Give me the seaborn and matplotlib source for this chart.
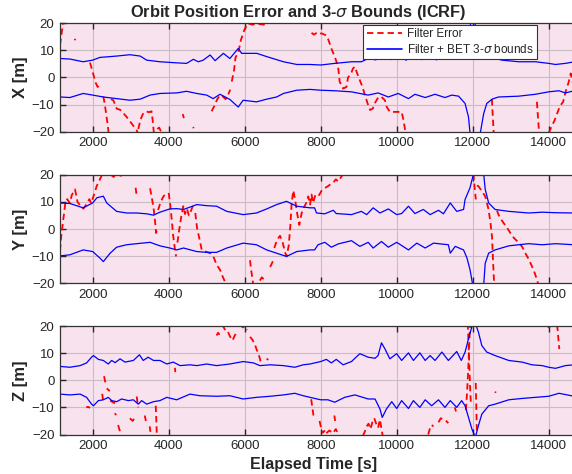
import numpy as np
import pandas as pd
import seaborn as sns
import matplotlib.pyplot as plt
from matplotlib.lines import Line2D

# ---- data (time [s], value [m]) ----
X_UP = [(1140, 7.0), (1400, 6.8), (1750, 5.8), (2000, 6.4), (2190, 7.4), (2630, 7.9), (2980, 8.4),
        (3250, 7.9), (3420, 6.4), (3770, 5.8), (4210, 5.4), (4470, 5.2), (4650, 6.7), (4780, 5.8),
        (4910, 6.4), (5090, 8.3), (5220, 6.2), (5440, 8.9), (5610, 7.0), (5830, 10.7), (5920, 8.9),
        (6140, 8.9), (6320, 8.9), (6580, 7.7), (7020, 5.8), (7370, 4.8), (7720, 4.8), (8000, 4.6),
        (8370, 5.2), (8810, 5.8), (9070, 5.8), (9250, 7.0), (9450, 6.5), (9650, 8.0), (9850, 6.6),
        (10050, 7.8), (10250, 6.4), (10450, 8.2), (10650, 6.6), (10850, 7.9), (11050, 6.5),
        (11250, 8.1), (11450, 6.8), (11650, 7.5), (11800, 8.0), (11900, 12.0), (11950, 21.0),
        (12050, 21.0), (12150, 12.0), (12300, 8.0), (12770, 6.4), (13210, 5.8), (13650, 5.8),
        (14000, 5.2), (14180, 4.8), (14440, 5.2), (14680, 5.8)]
X_LO = [(1140, -7.2), (1400, -7.4), (1750, -5.9), (2000, -6.5), (2280, -7.2), (2630, -7.8),
        (2980, -8.4), (3250, -8.0), (3510, -6.5), (3770, -5.9), (4210, -5.7), (4470, -5.1),
        (4740, -5.9), (5000, -6.5), (5170, -7.8), (5350, -6.2), (5610, -8.1), (5830, -10.9),
        (5960, -8.4), (6310, -9.0), (6580, -8.0), (6840, -7.2), (7020, -5.9), (7370, -4.7),
        (7720, -4.4), (8000, -4.7), (8370, -4.9), (8810, -5.3), (9250, -6.5), (9510, -5.7),
        (9780, -7.2), (10040, -5.9), (10310, -7.8), (10480, -6.2), (10750, -7.4), (11010, -6.2),
        (11270, -7.4), (11450, -6.5), (11630, -6.9), (11800, -9.6), (11890, -14.6), (11930, -20.5),
        (12070, -24.0), (12200, -20.5), (12290, -13.3), (12370, -9.6), (12510, -8.0), (12680, -7.2),
        (13210, -6.9), (13650, -6.2), (14000, -5.3), (14270, -4.9), (14440, -5.7), (14670, -4.9)]
X_ERR = [
    [(1140, 12), (1180, 16), (1230, 21)],
    [(1520, 14.2), (1550, 13.8)],
    [(1930, 5.5), (1980, 3), (2030, 0.5), (2080, -2), (2130, -3.5), (2170, -3)],
    [(2280, -7), (2320, -10), (2360, -14), (2400, -18), (2430, -22)],
    [(2480, -8), (2544, -8.4), (2631, -11.5), (2719, -11.9), (2800, -13), (2895, -14.6),
     (3026, -17), (3158, -19.5), (3200, -21)],
    [(3200, -19), (3260, -15.5), (3320, -13.5), (3400, -12.5), (3480, -12.8), (3550, -12.5),
     (3580, -16), (3620, -22)],
    [(3700, -19), (3750, -18.5), (3800, -20), (3850, -19)],
    [(4370, -13.5), (4400, -15)],
    [(4640, -18.3), (4660, -18.7)],
    [(5130, -12.5), (5200, -10.5), (5280, -8), (5350, -6.5), (5420, -7), (5500, -8),
     (5560, -6.5), (5620, -4.5)],
    [(5660, -1.5), (5720, 2.7), (5760, 7.5), (5830, 9), (5900, 13.8), (5990, 17.5),
     (6080, 20), (6200, 19.5), (6350, 19.8), (6500, 19.5), (6650, 20.5)],
    [(7760, 16.5), (7820, 15.8), (7900, 16.5), (7960, 16), (8020, 16.3), (8150, 15.5),
     (8200, 14), (8250, 12), (8300, 10), (8370, 7.7), (8458, 4.0), (8500, -1.6), (8590, -4.1),
     (8678, -3.5), (8720, 0), (8800, 1.5), (8850, 3.3), (8900, 4), (8960, 1.5), (9030, -1),
     (9100, -3.5), (9180, -7.2), (9250, -10.2), (9300, -12), (9370, -11.5), (9420, -9.6),
     (9520, -7.2), (9600, -7.2), (9690, -8.4), (9740, -10.9), (9820, -12.7), (9950, -12.7),
     (10130, -12.7), (10180, -15.8), (10240, -21)],
    [(12505, -8), (12520, -12), (12540, -17), (12560, -22)],
    [(13690, -9), (13710, -13), (13730, -17), (13750, -21)],
    [(14000, -20.5), (14080, -18), (14150, -16), (14230, -13), (14300, -10.5), (14380, -9),
     (14450, -5), (14520, -2), (14580, 1.5), (14650, -3)],
]

Y_UP = [(1140, 9.6), (1400, 9.4), (1750, 7.8), (2000, 9.6), (2110, 11.5), (2280, 12.1), (2370, 9.6),
        (2630, 6.5), (2890, 5.9), (3160, 5.9), (3420, 5.6), (3600, 5.1), (3770, 6.2), (4030, 7.4),
        (4210, 7.5), (4390, 7.2), (4740, 9.0), (5000, 8.6), (5260, 8.4), (5530, 6.5), (5960, 5.3),
        (6310, 5.9), (6580, 7.4), (6840, 9.0), (7100, 10.2), (7370, 8.4), (7720, 7.8), (7840, 7.8),
        (7890, 5.9), (8110, 5.6), (8330, 6.9), (8410, 5.7), (8810, 5.3), (9070, 6.5), (9210, 5.3),
        (9380, 7.8), (9560, 5.9), (9780, 7.4), (10000, 5.3), (10130, 5.7), (10310, 8.4),
        (10480, 5.7), (10700, 7.2), (10880, 5.3), (11100, 6.9), (11230, 5.6), (11410, 9.6),
        (11580, 6.5), (11760, 7.2), (11800, 10.9), (11930, 15.2), (12020, 20.2), (12150, 24.0),
        (12290, 20.2), (12330, 14.6), (12420, 9.6), (12590, 7.2), (12950, 6.5), (13470, 5.9),
        (13830, 6.2), (14180, 6.0), (14670, 5.9)]
Y_LO = [(1140, -9.9), (1400, -9.5), (1750, -7.7), (2000, -8.3), (2190, -10.7), (2280, -12.0),
        (2460, -8.9), (2630, -6.7), (2890, -5.8), (3160, -5.4), (3510, -4.9), (3770, -6.2),
        (4030, -7.0), (4210, -7.7), (4390, -7.0), (4740, -8.3), (5000, -8.6), (5260, -8.6),
        (5530, -7.0), (5960, -5.2), (6310, -5.8), (6580, -7.7), (6840, -8.9), (7100, -10.1),
        (7370, -8.3), (7720, -7.7), (7840, -7.7), (7930, -5.8), (8110, -4.9), (8280, -6.7),
        (8460, -5.5), (8810, -4.3), (9030, -6.4), (9250, -4.9), (9380, -7.0), (9600, -4.6),
        (9780, -6.7), (10000, -4.9), (10310, -7.7), (10530, -5.2), (10750, -7.0), (10970, -5.2),
        (11360, -5.8), (11410, -8.9), (11540, -6.4), (11760, -7.7), (11850, -10.7), (11930, -15.0),
        (12000, -20.5), (12150, -24.0), (12290, -20.5), (12330, -12.6), (12420, -8.9),
        (12590, -7.7), (12950, -6.2), (13470, -5.4), (13830, -5.8), (14180, -5.4), (14670, -5.8)]
Y_ERR = [
    [(1140, -8), (1170, -3), (1200, 0.5), (1240, 5), (1280, 9.6), (1330, 11), (1400, 9.5),
     (1450, 12.5), (1535, 14.6), (1600, 10), (1680, 8.5), (1754, 7.5), (1830, 9), (1912, 11),
     (1960, 9.5), (2020, 12), (2105, 15.8), (2190, 18.3), (2280, 21)],
    [(2450, 20.3), (2550, 19.2), (2650, 20.2), (2760, 19.5)],
    [(3130, 15.2), (3150, 13)],
    [(3510, 15), (3550, 12), (3600, 8), (3640, 3), (3670, -1.5), (3700, 0.5)],
    [(3720, 7), (3780, 9.5), (3840, 11.5), (3900, 12.7), (3960, 12)],
    [(4000, 13.3), (4040, 9), (4080, 3.5), (4120, -2.7), (4160, -7), (4195, -10.1)],
    [(4230, -5), (4280, 0), (4330, 4.5), (4385, 8.4), (4430, 5.5), (4480, 7.5), (4530, 5),
     (4580, 6.5), (4650, 9)],
    [(4700, 5.9), (4750, 0), (4800, -3), (4870, -7.7), (4950, -8.2), (5030, -8.6), (5100, -9),
     (5175, -10.1), (5262, -13.2), (5350, -15), (5420, -17.5), (5480, -19.4), (5520, -21)],
    [(6140, -11.5), (6170, -15), (6200, -18), (6230, -21)],
    [(6400, -19), (6450, -17.8), (6500, -18.5), (6560, -19.5)],
    [(6670, -14), (6720, -12.5), (6760, -11.5)],
    [(6780, -7), (6850, -4), (6930, -2.5), (7000, -5), (7060, -8.5), (7104, -10.1), (7160, -6),
     (7200, 1), (7236, 9.6), (7280, 14.2), (7330, 10.5), (7390, 5), (7437, 1.5), (7500, 5.9),
     (7560, 8), (7620, 9.6), (7674, 12), (7720, 9), (7760, 12.7), (7800, 9.6), (7850, 12.1),
     (7900, 13), (7960, 12.5), (8018, 14), (8100, 15), (8194, 15.8), (8260, 16.5), (8326, 17),
     (8400, 18.3), (8460, 17.5), (8530, 19), (8590, 20.2), (8650, 21)],
    [(11260, 20), (11280, 20.5)],
    [(12020, 20.5), (12040, 17), (12060, 14), (12083, 10.9)],
    [(12110, 16), (12150, 15.8), (12240, 14), (12330, 12), (12418, 7.2), (12470, 2),
     (12510, -3), (12530, -10), (12550, -16), (12570, -22)],
    [(12640, 6.8), (12682, 5.2), (12750, 3.5), (12850, 1.5), (12950, -0.5), (13034, -2.5),
     (13120, -3.8), (13200, -4.8), (13300, -6.5), (13386, -8.9), (13470, -11), (13562, -13.8),
     (13640, -16.5), (13694, -18.8), (13740, -21)],
]

Z_UP = [(1140, 5.1), (1400, 4.8), (1670, 5.4), (1840, 6.4), (1970, 8.5), (2020, 9.1), (2150, 7.7),
        (2280, 7.3), (2410, 6.0), (2500, 7.3), (2590, 6.5), (2720, 7.9), (2850, 6.7), (3070, 7.3),
        (3230, 9.4), (3330, 7.3), (3460, 8.5), (3600, 7.3), (3770, 7.3), (3950, 6.0), (4120, 6.7),
        (4300, 5.4), (4560, 5.7), (4740, 5.4), (5000, 6.0), (5260, 5.4), (5610, 6.0), (5960, 6.9),
        (6230, 6.4), (6400, 5.4), (6670, 5.7), (7020, 5.4), (7320, 4.8), (7540, 5.7), (7720, 6.0),
        (8000, 6.9), (8150, 7.7), (8280, 6.4), (8410, 7.7), (8590, 5.7), (8810, 6.9), (9030, 9.8),
        (9250, 8.5), (9430, 8.1), (9510, 9.1), (9600, 13.8), (9690, 11.6), (9820, 7.9),
        (10000, 9.8), (10130, 7.3), (10310, 10.1), (10440, 7.3), (10610, 10.1), (10750, 7.3),
        (10880, 9.1), (11010, 7.3), (11190, 10.4), (11360, 7.3), (11580, 10.6), (11700, 7.3),
        (11800, 10.4), (11890, 15.3), (11980, 19.8), (12070, 21.0), (12150, 17.8), (12240, 12.8),
        (12370, 10.4), (12590, 9.1), (12950, 7.3), (13300, 6.7), (13560, 5.7), (13830, 5.4),
        (14000, 4.8), (14180, 4.4), (14440, 5.4), (14670, 5.7)]
Z_LO = [(1140, -5.1), (1400, -5.4), (1670, -5.1), (1840, -6.3), (1970, -8.8), (2020, -9.4),
        (2150, -7.5), (2280, -7.2), (2410, -6.3), (2500, -7.5), (2630, -7.9), (2760, -6.9),
        (2940, -7.5), (3070, -7.2), (3200, -8.8), (3290, -7.5), (3420, -8.8), (3600, -7.9),
        (3770, -7.5), (3950, -6.3), (4210, -7.2), (4560, -5.1), (4820, -5.7), (5260, -5.9),
        (5610, -5.7), (5960, -6.9), (6310, -6.3), (6670, -5.9), (7020, -5.4), (7320, -4.8),
        (7540, -5.7), (7720, -6.3), (8000, -7.2), (8190, -7.2), (8370, -8.1), (8630, -6.3),
        (8900, -5.4), (9250, -6.9), (9430, -6.9), (9560, -10.6), (9620, -13.7), (9730, -10.6),
        (9870, -7.9), (10000, -10.4), (10130, -7.5), (10310, -10.4), (10440, -7.5), (10610, -10.0),
        (10750, -7.2), (10920, -9.4), (11100, -7.2), (11270, -10.0), (11410, -7.5), (11580, -10.0),
        (11710, -7.5), (11800, -9.4), (11890, -13.7), (11980, -18.0), (12070, -21.0),
        (12150, -16.8), (12240, -12.5), (12420, -9.4), (12590, -8.8), (12950, -7.2), (13300, -6.7),
        (13650, -6.3), (14000, -5.9), (14270, -4.8), (14670, -5.9)]
Z_ERR = [
    [(1830, -10), (1880, -9.8), (1930, -10.2)],
    [(2250, -5), (2280, -8)],
    [(2300, 1.5), (2320, 0), (2340, -1)],
    [(2370, -3), (2410, -3.5), (2450, -4)],
    [(2460, -7.5), (2520, -8), (2590, -8.5)],
    [(2580, -12.2), (2620, -12.8)],
    [(2670, -16.5), (2710, -18.5), (2760, -17)],
    [(2980, -14), (3050, -15), (3110, -13.8)],
    [(3160, -6), (3180, -8.5), (3200, -10)],
    [(3370, -13), (3400, -15)],
    [(3500, -17), (3520, -19)],
    [(3660, -9.4), (3670, -13), (3680, -17), (3690, -21)],
    [(4165, 4.6), (4175, 3)],
    [(5260, 16.5), (5300, 17.5), (5340, 16.8)],
    [(5400, 20.5), (5450, 19.5), (5500, 18), (5560, 17.8), (5620, 16), (5680, 14.7),
     (5740, 16.5), (5800, 18)],
    [(5880, 20.5), (5950, 19.5), (6010, 20), (6060, 18.5)],
    [(6140, 16), (6200, 15), (6260, 13.5), (6310, 11.5), (6360, 9.8), (6400, 8), (6440, 5.4)],
    [(6580, 8), (6620, 7.5)],
    [(7750, -7), (7780, -10), (7810, -13)],
    [(7970, -15), (8010, -17.5), (8060, -19.3), (8110, -18.5)],
    [(8150, -19.5), (8230, -18.5), (8320, -19.5), (8400, -18), (8460, -20)],
    [(8360, -13), (8380, -15)],
    [(9110, -20.5), (9160, -19), (9210, -17), (9260, -16), (9310, -18), (9360, -15.5),
     (9410, -14), (9460, -16), (9510, -17.5), (9560, -14.5), (9600, -18), (9640, -21)],
    [(10830, -20), (10870, -18), (10920, -16.5), (10970, -17)],
    [(11100, -15.5), (11160, -14), (11230, -14.5), (11300, -15), (11360, -15.8)],
    [(11530, -10), (11560, -11.5)],
    [(11820, -11), (11850, -5), (11880, 3), (11900, 10), (11920, 17), (11940, 21)],
    [(11870, 21), (11890, 14), (11910, 6), (11930, -2), (11950, -8)],
    [(12080, -1), (12090, -7), (12100, -13), (12110, -19)],
    [(12590, -4.2), (12610, -4.6)],
    [(13960, 20.5), (14000, 19.5), (14050, 20)],
    [(14220, 20.5), (14240, 18), (14260, 14.5), (14280, 11.5)],
]

PANELS = [("X [m]", X_UP, X_LO, X_ERR), ("Y [m]", Y_UP, Y_LO, Y_ERR), ("Z [m]", Z_UP, Z_LO, Z_ERR)]
XTICKS = [2000, 4000, 6000, 8000, 10000, 12000, 14000]
YTICKS = [-20, -10, 0, 10, 20]


def bounds_frame(up, lo):
    rows = [(t, v, "up") for t, v in up] + [(t, v, "lo") for t, v in lo]
    return pd.DataFrame(rows, columns=["t", "v", "seg"])


def error_frame(segs):
    rows = [(t, v, i) for i, seg in enumerate(segs) for t, v in seg]
    return pd.DataFrame(rows, columns=["t", "v", "seg"])


sns.set_theme(style="ticks")
plt.rcParams["font.family"] = ["Liberation Sans", "DejaVu Sans"]
plt.rcParams["axes.unicode_minus"] = True

PINK = "#F7E2EE"
fig = plt.figure(figsize=(5.72, 4.74), dpi=100)
rects = [(0.1049, 0.7222, 0.93, 0.2287),
         (0.1049, 0.4023, 0.93, 0.2291),
         (0.1049, 0.0833, 0.93, 0.2289)]
# 1000 s = 38 px, left edge at t=1140
x_right = 1140 + (0.93 * 572) / 0.038

for rect, (ylab, up, lo, err) in zip(rects, PANELS):
    ax = fig.add_axes(rect)
    ax.set_facecolor(PINK)
    sns.lineplot(data=error_frame(err), x="t", y="v", units="seg", estimator=None, sort=False,
                 color="red", lw=1.3, linestyle=(0, (3.5, 2.2)), ax=ax, legend=False)
    sns.lineplot(data=bounds_frame(up, lo), x="t", y="v", units="seg", estimator=None, sort=False,
                 color="#0000FF", lw=0.9, ax=ax, legend=False)
    ax.set_xlim(1140, x_right)
    ax.set_ylim(-20, 20)
    ax.set_xticks(XTICKS)
    ax.set_yticks(YTICKS)
    ax.grid(True, color="#c9bcc5", lw=0.8)
    ax.set_axisbelow(True)
    ax.tick_params(direction="in", length=4, width=1, top=True, labelsize=9.5,
                   colors="#262626", pad=4)
    for s in ax.spines.values():
        s.set_color("#333333")
        s.set_linewidth(0.9)
    ax.set_xlabel("")
    ax.set_ylabel(ylab, fontsize=12, fontweight="bold", labelpad=3)
    if ylab.startswith("X"):
        handles = [Line2D([], [], color="red", lw=1.3, linestyle=(0, (3.5, 2.2))),
                   Line2D([], [], color="#0000FF", lw=1.2)]
        leg = ax.legend(handles, ["Filter Error", r"Filter + BET 3-$\sigma$ bounds"],
                        loc="upper right", bbox_to_anchor=(0.897, 0.985), borderaxespad=0,
                        fontsize=8.5, handlelength=3.0, fancybox=False, framealpha=1,
                        borderpad=0.3, labelspacing=0.2, handletextpad=0.4)
        leg.get_frame().set_edgecolor("#333333")
        leg.get_frame().set_linewidth(0.8)

fig.text(298 / 572, 1 - 12 / 474, r"Orbit Position Error and 3-$\sigma$ Bounds (ICRF)",
         ha="center", va="center", fontsize=11.8, fontweight="bold")
fig.text(314 / 572, 1 - 464 / 474, "Elapsed Time [s]", ha="center", va="center",
         fontsize=11.5, fontweight="bold")

fig.savefig("out.png", dpi=100, facecolor="white")
